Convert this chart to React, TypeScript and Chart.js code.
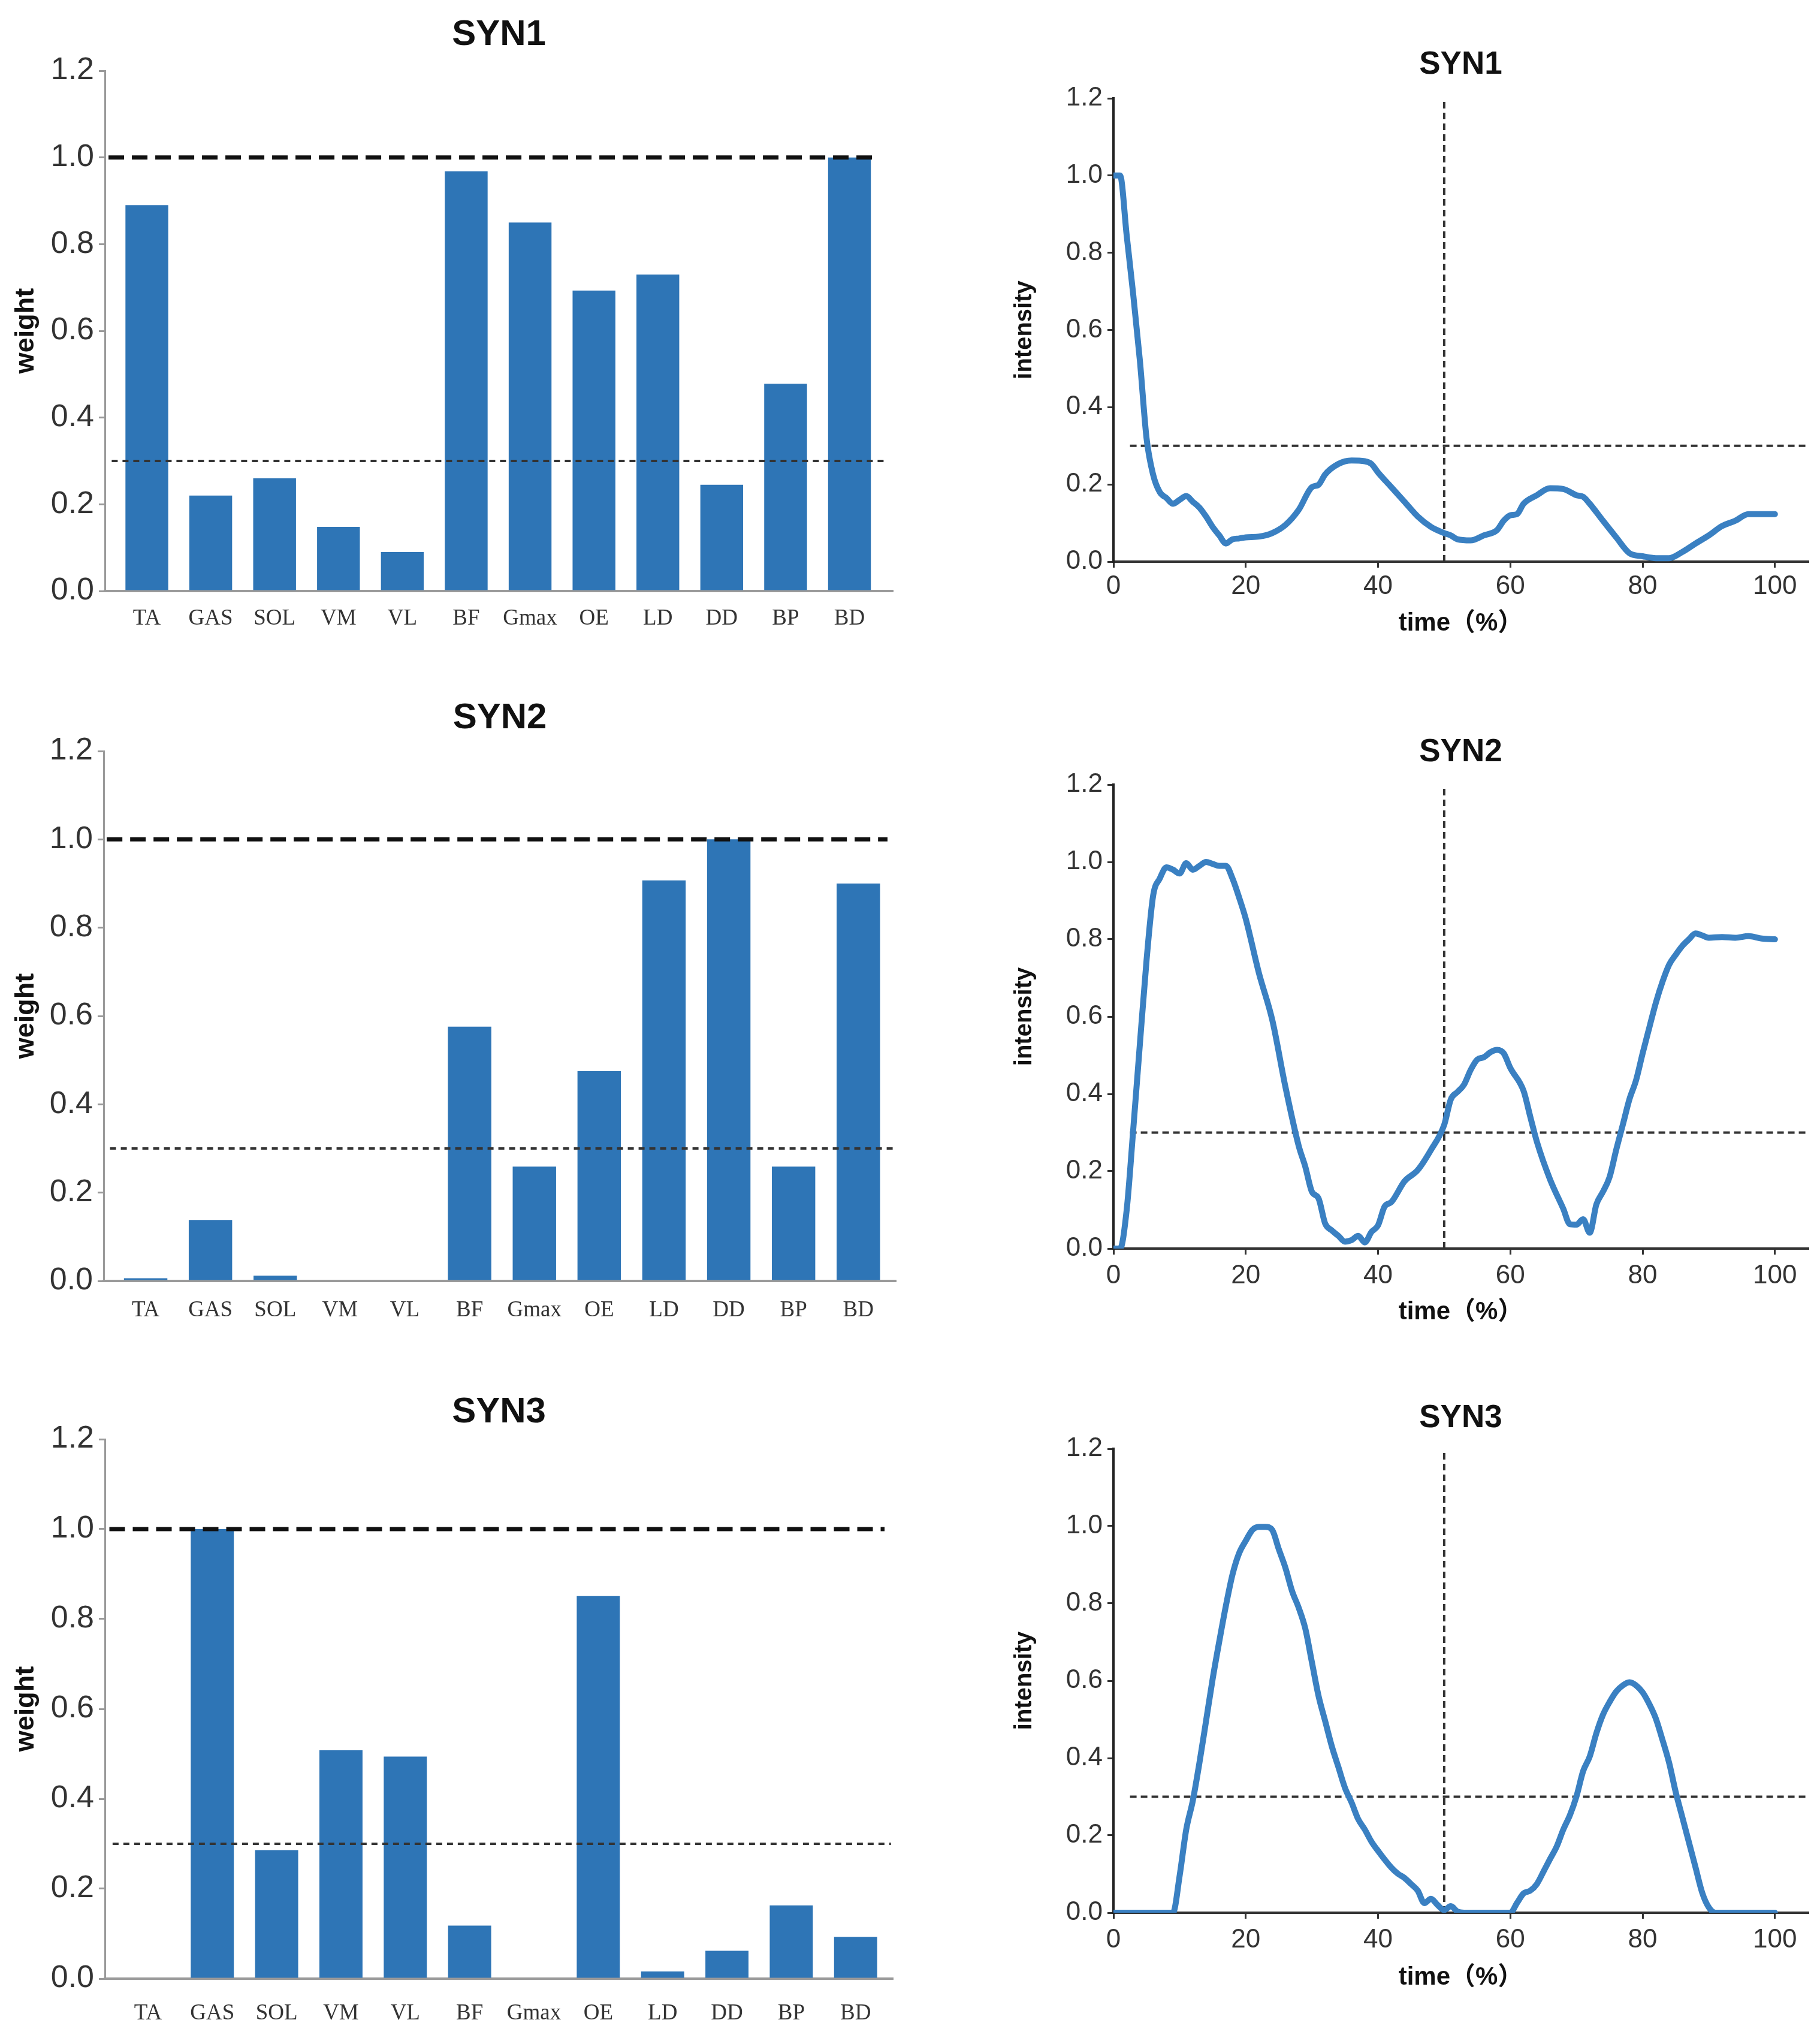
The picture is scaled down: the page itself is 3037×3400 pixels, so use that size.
import { useEffect, useRef } from "react"
import { Chart, registerables } from "chart.js"

Chart.register(...registerables)

// muscle weights (left column)
const muscles = ["TA", "GAS", "SOL", "VM", "VL", "BF", "Gmax", "OE", "LD", "DD", "BP", "BD"]
const weightSyn1 = [0.89, 0.22, 0.26, 0.148, 0.09, 0.968, 0.85, 0.693, 0.73, 0.245, 0.478, 1.0]
const weightSyn2 = [0.006, 0.138, 0.012, 0, 0, 0.576, 0.259, 0.475, 0.907, 1.0, 0.259, 0.9]
const weightSyn3 = [0, 1.0, 0.286, 0.508, 0.494, 0.118, 0, 0.851, 0.016, 0.062, 0.163, 0.093]

const valueTicks = [0, 0.2, 0.4, 0.6, 0.8, 1.0, 1.2]
const timeTicks = [0, 20, 40, 60, 80, 100]

// activation curves (right column), [time %, intensity]
const intensitySyn1: [number, number][] = [
  [0, 1.0], [1, 1.0], [2, 0.845], [3, 0.69], [4, 0.52], [5, 0.32], [6, 0.225], [7, 0.18],
  [8, 0.165], [9, 0.15], [10, 0.16], [11, 0.17], [12, 0.155], [13, 0.14], [14, 0.117],
  [15, 0.09], [16, 0.068], [17, 0.047], [18, 0.058], [19, 0.06], [20, 0.063], [22, 0.065],
  [24, 0.074], [26, 0.095], [28, 0.134], [30, 0.193], [31, 0.199], [32, 0.226], [34, 0.253],
  [36, 0.262], [38, 0.26], [39, 0.253], [40, 0.231], [42, 0.193], [44, 0.155], [46, 0.117],
  [48, 0.09], [50, 0.074], [51, 0.068], [52, 0.058], [54, 0.055], [56, 0.068], [58, 0.082],
  [59, 0.106], [60, 0.12], [61, 0.123], [62, 0.15], [64, 0.172], [66, 0.19], [68, 0.188],
  [70, 0.172], [71, 0.168], [72, 0.15], [74, 0.106], [76, 0.063], [78, 0.022], [80, 0.014],
  [82, 0.009], [84, 0.009], [86, 0.025], [88, 0.047], [90, 0.068], [92, 0.092], [94, 0.106],
  [96, 0.123], [98, 0.123], [100, 0.123]
]

const intensitySyn2: [number, number][] = [
  [0, 0], [1, 0], [2, 0.1], [3, 0.31], [4, 0.53], [5, 0.745], [6, 0.913], [7, 0.957],
  [8, 0.986], [9, 0.98], [10, 0.97], [11, 0.997], [12, 0.98], [13, 0.99], [14, 1.0],
  [15, 0.995], [16, 0.99], [17, 0.99], [18, 0.957], [19, 0.908], [20, 0.853], [22, 0.712],
  [24, 0.592], [26, 0.418], [28, 0.266], [29, 0.212], [30, 0.147], [31, 0.13], [32, 0.065],
  [33, 0.047], [34, 0.033], [35, 0.018], [36, 0.022], [37, 0.033], [38, 0.016], [39, 0.043],
  [40, 0.06], [41, 0.109], [42, 0.12], [44, 0.174], [46, 0.203], [48, 0.255], [50, 0.32],
  [51, 0.386], [52, 0.405], [53, 0.424], [54, 0.462], [55, 0.489], [56, 0.495], [57, 0.508],
  [58, 0.514], [59, 0.505], [60, 0.467], [62, 0.408], [63, 0.342], [64, 0.277], [66, 0.179],
  [68, 0.103], [69, 0.063], [70, 0.062], [71, 0.076], [72, 0.041], [73, 0.114], [74, 0.147],
  [75, 0.185], [76, 0.255], [77, 0.32], [78, 0.386], [79, 0.435], [80, 0.505], [81, 0.571],
  [82, 0.636], [83, 0.69], [84, 0.734], [85, 0.76], [86, 0.783], [87, 0.8], [88, 0.815],
  [89, 0.81], [90, 0.804], [92, 0.806], [94, 0.804], [96, 0.808], [98, 0.802], [100, 0.8]
]

const intensitySyn3: [number, number][] = [
  [0, 0], [9, 0], [10, 0.095], [11, 0.215], [12, 0.29], [13, 0.388], [14, 0.496], [15, 0.605],
  [16, 0.702], [17, 0.794], [18, 0.875], [19, 0.93], [20, 0.962], [21, 0.99], [22, 0.998],
  [23, 0.998], [24, 0.99], [25, 0.94], [26, 0.892], [27, 0.832], [28, 0.789], [29, 0.735],
  [30, 0.648], [31, 0.561], [32, 0.496], [33, 0.431], [34, 0.377], [35, 0.323], [36, 0.285],
  [37, 0.242], [38, 0.215], [39, 0.184], [40, 0.16], [42, 0.117], [43, 0.101], [44, 0.09],
  [45, 0.074], [46, 0.057], [47, 0.025], [48, 0.036], [49, 0.02], [50, 0.007], [51, 0.017],
  [52, 0.003], [53, 0], [60, 0], [61, 0.025], [62, 0.05], [63, 0.057], [64, 0.074],
  [65, 0.106], [66, 0.139], [67, 0.171], [68, 0.215], [69, 0.252], [70, 0.301], [71, 0.366],
  [72, 0.404], [73, 0.464], [74, 0.512], [75, 0.545], [76, 0.572], [77, 0.588], [78, 0.596],
  [79, 0.588], [80, 0.57], [81, 0.54], [82, 0.502], [83, 0.447], [84, 0.388], [85, 0.312],
  [86, 0.247], [87, 0.182], [88, 0.117], [89, 0.052], [90, 0.014], [91, 0], [100, 0]
]

const BAR_BLUE = "#2E75B6"
const LINE_BLUE = "#3A80C2"
const NARROW = "'Liberation Sans Narrow', 'Arial Narrow', 'Liberation Sans', Arial, sans-serif"
const BOLD = "'Liberation Sans', Arial, 'Noto Sans CJK SC', sans-serif"
const SERIF = "'Liberation Serif', 'Times New Roman', serif"

type Box = { left: number; top: number; width: number; height: number }
type Plot = { l: number; r: number; t: number; b: number }

interface Panel {
  box: Box
  plot: Plot
  titleY: number
  labelY: number
}

function titlePadding(p: Panel, size: number) {
  const half = (size * 1.2) / 2
  const cy = p.titleY - p.box.top
  return { top: cy - half, bottom: p.plot.t - p.box.top - cy - half }
}

function barConfig(title: string, values: number[], p: Panel, xMin: number, xMax: number): any {
  const bottom = p.plot.b - p.box.top
  return {
    type: "bar",
    data: {
      datasets: [
        {
          type: "line",
          data: [{ x: -0.6, y: 1 }, { x: 11.45, y: 1 }],
          borderColor: "#111",
          borderWidth: 7,
          borderDash: [26, 13],
          pointRadius: 0,
          order: 0
        },
        {
          type: "line",
          data: [{ x: -0.55, y: 0.3 }, { x: 11.55, y: 0.3 }],
          borderColor: "#333",
          borderWidth: 4,
          borderDash: [10, 8],
          pointRadius: 0,
          order: 0
        },
        {
          type: "bar",
          data: values.map((v, i) => ({ x: i, y: v })),
          backgroundColor: BAR_BLUE,
          barPercentage: 0.67,
          categoryPercentage: 1,
          order: 1
        }
      ]
    },
    options: {
      animation: false,
      responsive: false,
      devicePixelRatio: 1,
      layout: { padding: { left: 0, top: 0, bottom: 0, right: p.box.width - (p.plot.r - p.box.left) } },
      plugins: {
        legend: { display: false },
        tooltip: { enabled: false },
        title: {
          display: true,
          text: title,
          fullSize: false,
          color: "#111",
          font: { family: BOLD, size: 60, weight: "bold" },
          padding: titlePadding(p, 60)
        }
      },
      scales: {
        x: {
          type: "linear",
          min: xMin,
          max: xMax,
          offset: false,
          afterBuildTicks: (s: any) => { s.ticks = muscles.map((_, i) => ({ value: i })) },
          afterFit: (s: any) => { s.height = p.box.height - bottom },
          grid: { display: false, drawTicks: false },
          border: { color: "#9a9a9a", width: 4 },
          ticks: {
            autoSkip: false,
            maxRotation: 0,
            color: "#333",
            font: { family: SERIF, size: 37 },
            padding: p.labelY - p.plot.b - 37 * 0.6,
            callback: (v: any) => muscles[Math.round(v)] ?? ""
          }
        },
        y: {
          min: 0,
          max: 1.2,
          afterBuildTicks: (s: any) => { s.ticks = valueTicks.map((v) => ({ value: v })) },
          afterFit: (s: any) => { s.width = p.plot.l - p.box.left },
          grid: { drawOnChartArea: false, drawTicks: true, tickLength: 10, color: "#999", lineWidth: 3 },
          border: { color: "#9a9a9a", width: 3 },
          ticks: {
            color: "#333",
            padding: 8,
            font: { family: NARROW, size: 52 },
            callback: (v: any) => Number(v).toFixed(1)
          },
          title: {
            display: true,
            text: "weight",
            color: "#111",
            font: { family: BOLD, size: 45, weight: "bold" },
            padding: { top: 44 - 27, bottom: 44 - 27 }
          }
        }
      }
    }
  }
}

function lineConfig(title: string, curve: [number, number][], p: Panel, axisTitleY: number): any {
  const bottom = p.plot.b - p.box.top
  const xh = p.box.height - bottom
  const refStyle = { borderColor: "#333", borderWidth: 4, borderDash: [11, 7], pointRadius: 0, order: 1 }
  const titleOffset = p.box.top + p.box.height - axisTitleY - 25
  return {
    type: "line",
    data: {
      datasets: [
        {
          data: curve.map(([x, y]) => ({ x, y })),
          borderColor: LINE_BLUE,
          borderWidth: 10,
          pointRadius: 0,
          cubicInterpolationMode: "monotone",
          borderCapStyle: "round",
          borderJoinStyle: "round",
          order: 0
        },
        { ...refStyle, data: [{ x: 2.5, y: 0.3 }, { x: 105, y: 0.3 }] },
        { ...refStyle, data: [{ x: 50, y: 0 }, { x: 50, y: 1.2 }] }
      ]
    },
    options: {
      animation: false,
      responsive: false,
      devicePixelRatio: 1,
      layout: { padding: { left: 0, top: 0, bottom: 0, right: p.box.width - (p.plot.r - p.box.left) } },
      plugins: {
        legend: { display: false },
        tooltip: { enabled: false },
        title: {
          display: true,
          text: title,
          fullSize: false,
          color: "#111",
          font: { family: BOLD, size: 53, weight: "bold" },
          padding: titlePadding(p, 53)
        }
      },
      scales: {
        x: {
          type: "linear",
          min: 0,
          max: 105,
          afterBuildTicks: (s: any) => { s.ticks = timeTicks.map((v) => ({ value: v })) },
          afterFit: (s: any) => { s.height = xh },
          grid: { drawOnChartArea: false, drawTicks: true, tickLength: 10, color: "#333", lineWidth: 3 },
          border: { color: "#333", width: 4 },
          ticks: {
            autoSkip: false,
            maxRotation: 0,
            color: "#333",
            font: { family: NARROW, size: 44 },
            padding: p.labelY - p.plot.b - 10 - 44 * 0.6
          },
          title: {
            display: true,
            text: "time（%）",
            color: "#111",
            font: { family: BOLD, size: 42, weight: "bold" },
            padding: { top: titleOffset, bottom: titleOffset }
          }
        },
        y: {
          min: 0,
          max: 1.2,
          afterBuildTicks: (s: any) => { s.ticks = valueTicks.map((v) => ({ value: v })) },
          afterFit: (s: any) => { s.width = p.plot.l - p.box.left },
          grid: { drawOnChartArea: false, drawTicks: true, tickLength: 10, color: "#333", lineWidth: 3 },
          border: { color: "#222", width: 4, dash: [8, 5] },
          ticks: {
            color: "#333",
            padding: 8,
            font: { family: NARROW, size: 44 },
            callback: (v: any) => Number(v).toFixed(1)
          },
          title: {
            display: true,
            text: "intensity",
            color: "#111",
            font: { family: BOLD, size: 40, weight: "bold" },
            padding: { top: 1710 - 1600 - 24, bottom: 1710 - 1600 - 24 }
          }
        }
      }
    }
  }
}

function ChartBox({ box, config }: { box: Box; config: any }) {
  const canvasRef = useRef<HTMLCanvasElement>(null)
  const chartInstance = useRef<Chart | null>(null)

  useEffect(() => {
    if (canvasRef.current) {
      if (chartInstance.current) chartInstance.current.destroy()
      chartInstance.current = new Chart(canvasRef.current, config)
    }
    return () => { if (chartInstance.current) chartInstance.current.destroy() }
  }, [])

  return (
    <div style={{ position: "absolute", left: box.left, top: box.top, width: box.width, height: box.height }}>
      <canvas ref={canvasRef} width={box.width} height={box.height} style={{ width: box.width, height: box.height }} />
    </div>
  )
}

const barTop: Panel = { box: { left: 0, top: 0, width: 1520, height: 1080 }, plot: { l: 175, r: 1490, t: 118, b: 986 }, titleY: 58, labelY: 1032 }
const barMid: Panel = { box: { left: 0, top: 1140, width: 1520, height: 1100 }, plot: { l: 173, r: 1495, t: 1253, b: 2137 }, titleY: 1198, labelY: 2186 }
const barBot: Panel = { box: { left: 0, top: 2300, width: 1520, height: 1100 }, plot: { l: 175, r: 1490, t: 2401, b: 3301 }, titleY: 2356, labelY: 3359 }

const lineTop: Panel = { box: { left: 1600, top: 0, width: 1437, height: 1100 }, plot: { l: 1858, r: 3017, t: 164, b: 937 }, titleY: 108, labelY: 979 }
const lineMid: Panel = { box: { left: 1600, top: 1150, width: 1437, height: 1100 }, plot: { l: 1858, r: 3017, t: 1309, b: 2083 }, titleY: 1255, labelY: 2129 }
const lineBot: Panel = { box: { left: 1600, top: 2300, width: 1437, height: 1100 }, plot: { l: 1858, r: 3017, t: 2417, b: 3191 }, titleY: 2366, labelY: 3237 }

export default function App() {
  return (
    <div style={{ position: "absolute", left: 0, top: 0, width: 3037, height: 3400, background: "#fff" }}>
      <ChartBox box={barTop.box} config={barConfig("SYN1", weightSyn1, barTop, -0.657, 11.68)} />
      <ChartBox box={barMid.box} config={barConfig("SYN2", weightSyn2, barMid, -0.648, 11.58)} />
      <ChartBox box={barBot.box} config={barConfig("SYN3", weightSyn3, barBot, -0.67, 11.58)} />
      <ChartBox box={lineTop.box} config={lineConfig("SYN1", intensitySyn1, lineTop, 1041)} />
      <ChartBox box={lineMid.box} config={lineConfig("SYN2", intensitySyn2, lineMid, 2190)} />
      <ChartBox box={lineBot.box} config={lineConfig("SYN3", intensitySyn3, lineBot, 3300)} />
    </div>
  )
}
